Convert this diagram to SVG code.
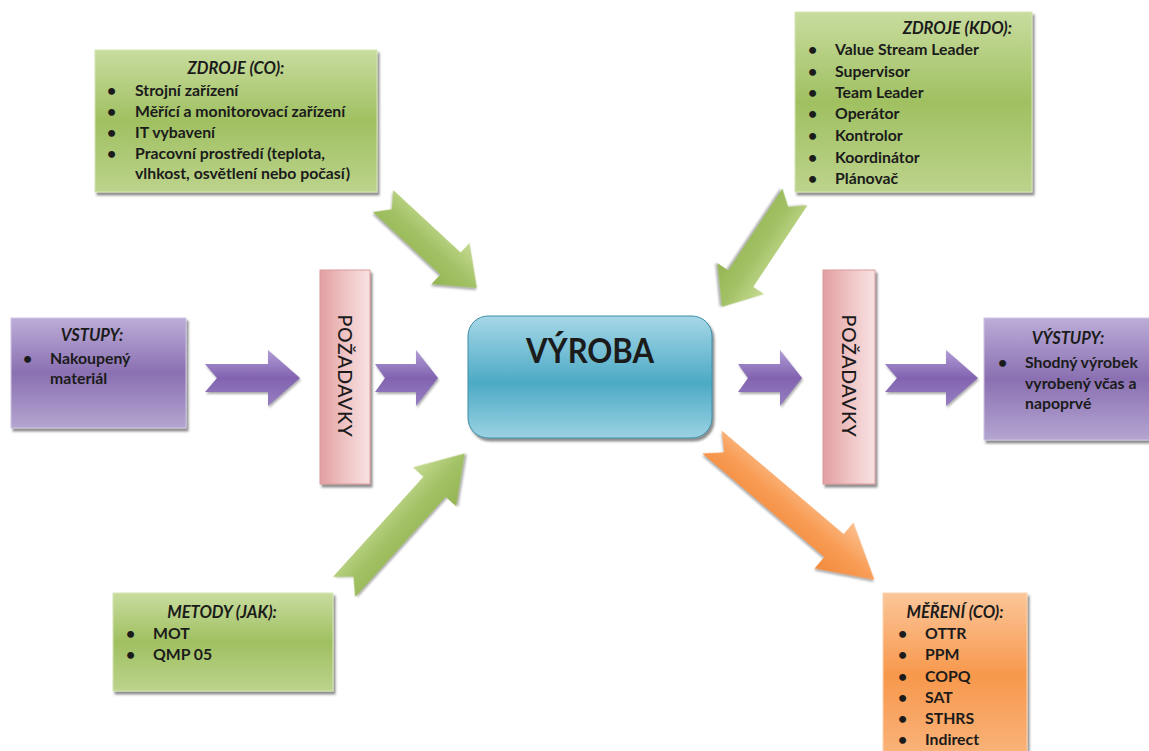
<svg xmlns="http://www.w3.org/2000/svg" width="1149" height="751" viewBox="0 0 1149 751">
  <defs>
    <linearGradient id="gGreen" x1="0" y1="0" x2="0" y2="1">
      <stop offset="0" stop-color="#c8dc9e"/>
      <stop offset="0.5" stop-color="#a0c061"/>
      <stop offset="1" stop-color="#bcd38c"/>
    </linearGradient>
    <linearGradient id="gPurple" x1="0" y1="0" x2="0" y2="1">
      <stop offset="0" stop-color="#bcadd8"/>
      <stop offset="0.5" stop-color="#8a70b1"/>
      <stop offset="1" stop-color="#b4a5d1"/>
    </linearGradient>
    <linearGradient id="gOrange" x1="0" y1="0" x2="0" y2="1">
      <stop offset="0" stop-color="#fbc699"/>
      <stop offset="0.5" stop-color="#f7984c"/>
      <stop offset="1" stop-color="#f9b47c"/>
    </linearGradient>
    <linearGradient id="gBlue" x1="0" y1="0" x2="0" y2="1">
      <stop offset="0" stop-color="#a6d7e7"/>
      <stop offset="0.55" stop-color="#4caac5"/>
      <stop offset="1" stop-color="#9bd2e2"/>
    </linearGradient>
    <linearGradient id="gPink" x1="0" y1="0" x2="1" y2="0">
      <stop offset="0" stop-color="#e29ea1"/>
      <stop offset="0.5" stop-color="#efc3c4"/>
      <stop offset="1" stop-color="#f8e2e2"/>
    </linearGradient>
    <linearGradient id="aPurple" x1="0" y1="0" x2="0" y2="1">
      <stop offset="0" stop-color="#b19dd6"/>
      <stop offset="0.5" stop-color="#8263b0"/>
      <stop offset="1" stop-color="#967ec1"/>
    </linearGradient>
    <linearGradient id="aGreen" x1="0" y1="0" x2="0" y2="1">
      <stop offset="0" stop-color="#c6db93"/>
      <stop offset="0.5" stop-color="#a3c266"/>
      <stop offset="1" stop-color="#94b553"/>
    </linearGradient>
    <linearGradient id="aOrange" x1="0" y1="0" x2="0" y2="1">
      <stop offset="0" stop-color="#fcc08e"/>
      <stop offset="0.5" stop-color="#f89c55"/>
      <stop offset="1" stop-color="#f28a3c"/>
    </linearGradient>
    <filter id="shadow" x="-10%" y="-10%" width="125%" height="130%">
      <feDropShadow dx="2" dy="3" stdDeviation="1.2" flood-color="#333" flood-opacity="0.55"/>
    </filter>
    <filter id="ashadow" x="-10%" y="-20%" width="125%" height="150%">
      <feDropShadow dx="1" dy="2" stdDeviation="1" flood-color="#444" flood-opacity="0.45"/>
    </filter>
  </defs>
  <style>
    text { font-family: Lato, "Open Sans", "DejaVu Sans", sans-serif; fill: #1b1b1b; }
    .item { font-size: 15.8px; font-weight: bold; }
    .title { font-size: 16.5px; font-weight: bold; font-style: italic; }
    .big { font-size: 35px; font-weight: bold; }
    .req { font-size: 19.5px; font-weight: 500; letter-spacing: 0.6px; }
    .box { filter: url(#shadow); stroke-width: 1; }
    .green { fill: url(#gGreen); stroke: #d6e6b6; }
    .purple { fill: url(#gPurple); stroke: #cfc4e3; }
    .orange { fill: url(#gOrange); stroke: #fcd3b2; }
    .arrow { filter: url(#ashadow); stroke: none; }
  </style>

  <rect width="1149" height="751" fill="#ffffff"/>

  <!-- connectors: block arrows -->
  <g id="connectors">
    <!-- purple flow arrows (inputs to outputs) -->
    <path class="arrow" fill="url(#aPurple)" transform="translate(205,378)" d="M0,-14 L63,-14 L63,-28 L95,0 L63,28 L63,14 L0,14 L12,0 Z"/>
    <path class="arrow" fill="url(#aPurple)" transform="translate(375,378)" d="M0,-14 L41,-14 L41,-28 L63,0 L41,28 L41,14 L0,14 L10,0 Z"/>
    <path class="arrow" fill="url(#aPurple)" transform="translate(738,378)" d="M0,-14 L42,-14 L42,-28 L64,0 L42,28 L42,14 L0,14 L10,0 Z"/>
    <path class="arrow" fill="url(#aPurple)" transform="translate(885,378)" d="M0,-14 L61,-14 L61,-28 L93,0 L61,28 L61,14 L0,14 L12,0 Z"/>
    <!-- green resource / method arrows -->
    <path class="arrow" fill="url(#aGreen)" transform="translate(383,201) rotate(42.8)" d="M0,-15 L92,-15 L92,-28 L128,0 L92,28 L92,15 L0,15 L12,0 Z"/>
    <path class="arrow" fill="url(#aGreen)" transform="translate(795,197) rotate(123.6)" d="M0,-15 L98,-15 L98,-28 L132,0 L98,28 L98,15 L0,15 L12,0 Z"/>
    <path class="arrow" fill="url(#aGreen)" transform="translate(344,587) rotate(-47.9)" d="M0,-15 L135,-15 L135,-29 L180,0 L135,29 L135,15 L0,15 L14,0 Z"/>
    <!-- orange measurement arrow -->
    <path class="arrow" fill="url(#aOrange)" transform="translate(712,442) rotate(40.3)" d="M0,-15 L160,-15 L160,-30 L213,0 L160,30 L160,15 L0,15 L16,0 Z"/>
  </g>

  <!-- resources: what -->
  <g id="zdroje-co">
    <rect class="box green" x="95" y="50" width="282" height="142"/>
    <text class="title" x="236" y="74" text-anchor="middle">ZDROJE (CO):</text>
    <text class="item" x="107" y="96">•</text><text class="item" x="135" y="96">Strojní zařízení</text>
    <text class="item" x="107" y="117">•</text><text class="item" x="135" y="117">Měřící a monitorovací zařízení</text>
    <text class="item" x="107" y="138">•</text><text class="item" x="135" y="138">IT vybavení</text>
    <text class="item" x="107" y="159">•</text><text class="item" x="135" y="159">Pracovní prostředí (teplota,</text>
    <text class="item" x="135" y="179">vlhkost, osvětlení nebo počasí)</text>
  </g>

  <!-- resources: who -->
  <g id="zdroje-kdo">
    <rect class="box green" x="795" y="12" width="237" height="180"/>
    <text class="title" x="1012" y="34" text-anchor="end">ZDROJE (KDO):</text>
    <text class="item" x="808" y="55">•</text><text class="item" x="835" y="55">Value Stream Leader</text>
    <text class="item" x="808" y="77">•</text><text class="item" x="835" y="77">Supervisor</text>
    <text class="item" x="808" y="98">•</text><text class="item" x="835" y="98">Team Leader</text>
    <text class="item" x="808" y="119">•</text><text class="item" x="835" y="119">Operátor</text>
    <text class="item" x="808" y="141">•</text><text class="item" x="835" y="141">Kontrolor</text>
    <text class="item" x="808" y="163">•</text><text class="item" x="835" y="163">Koordinátor</text>
    <text class="item" x="808" y="184">•</text><text class="item" x="835" y="184">Plánovač</text>
  </g>

  <!-- inputs -->
  <g id="vstupy">
    <rect class="box purple" x="11" y="318" width="175" height="110"/>
    <text class="title" x="92" y="341" text-anchor="middle">VSTUPY:</text>
    <text class="item" x="23" y="364">•</text><text class="item" x="50" y="364">Nakoupený</text>
    <text class="item" x="50" y="384">materiál</text>
  </g>

  <!-- requirements, input side -->
  <g id="pozadavky-1">
    <rect class="box" x="320" y="270" width="50" height="214" fill="url(#gPink)" stroke="#d99a9c"/>
    <text class="req" transform="translate(338,376) rotate(90)" text-anchor="middle">POŽADAVKY</text>
  </g>

  <!-- production -->
  <g id="vyroba">
    <rect class="box" x="468" y="316" width="244" height="122" rx="20" ry="20" fill="url(#gBlue)" stroke="#3f8ea6"/>
    <text class="big" x="590" y="363" text-anchor="middle" textLength="128" lengthAdjust="spacingAndGlyphs">VÝROBA</text>
  </g>

  <!-- requirements, output side -->
  <g id="pozadavky-2">
    <rect class="box" x="823" y="270" width="52" height="214" fill="url(#gPink)" stroke="#d99a9c"/>
    <text class="req" transform="translate(842,376) rotate(90)" text-anchor="middle">POŽADAVKY</text>
  </g>

  <!-- outputs -->
  <g id="vystupy">
    <rect class="box purple" x="984" y="318" width="170" height="122"/>
    <text class="title" x="1068" y="344" text-anchor="middle">VÝSTUPY:</text>
    <text class="item" x="998" y="368">•</text><text class="item" x="1025" y="368">Shodný výrobek</text>
    <text class="item" x="1025" y="389">vyrobený včas a</text>
    <text class="item" x="1025" y="409">napoprvé</text>
  </g>

  <!-- methods -->
  <g id="metody">
    <rect class="box green" x="113" y="593" width="220" height="98"/>
    <text class="title" x="222" y="618" text-anchor="middle">METODY (JAK):</text>
    <text class="item" x="126" y="639">•</text><text class="item" x="153" y="639">MOT</text>
    <text class="item" x="126" y="660">•</text><text class="item" x="153" y="660">QMP 05</text>
  </g>

  <!-- measurement -->
  <g id="mereni">
    <rect class="box orange" x="883" y="593" width="144" height="165"/>
    <text class="title" x="955" y="618" text-anchor="middle">MĚŘENÍ (CO):</text>
    <text class="item" x="898" y="639">•</text><text class="item" x="925" y="639">OTTR</text>
    <text class="item" x="898" y="660">•</text><text class="item" x="925" y="660">PPM</text>
    <text class="item" x="898" y="682">•</text><text class="item" x="925" y="682">COPQ</text>
    <text class="item" x="898" y="703">•</text><text class="item" x="925" y="703">SAT</text>
    <text class="item" x="898" y="724">•</text><text class="item" x="925" y="724">STHRS</text>
    <text class="item" x="898" y="745">•</text><text class="item" x="925" y="745">Indirect</text>
  </g>
</svg>
